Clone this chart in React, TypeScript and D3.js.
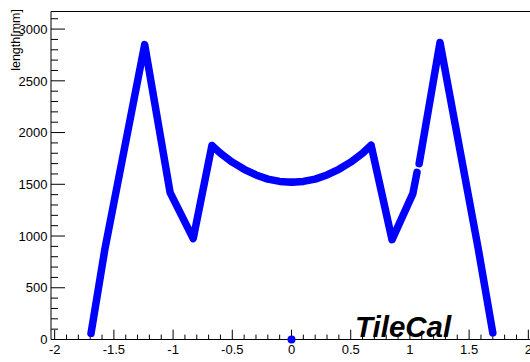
import React from "react";
import * as d3 from "d3";

// Data (eta vs cell length in mm)
const leftEta = [-1.693, -1.575, -1.24, -1.025, -0.83, -0.672, -0.6, -0.5, -0.4, -0.3, -0.2, -0.1, 0];
const leftLen = [60, 880, 2850, 1420, 975, 1875, 1800, 1714, 1645, 1590, 1550, 1528, 1520];
const rightEta = [0, 0.1, 0.2, 0.3, 0.4, 0.5, 0.6, 0.672, 0.849, 1.025, 1.06];
const rightLen = [1520, 1528, 1550, 1590, 1645, 1714, 1800, 1878, 965, 1410, 1615];
const outerEta = [1.078, 1.254, 1.575, 1.7];
const outerLen = [1700, 2870, 890, 65];
const zeroEta = [0];
const zeroLen = [0];

const xMajorTicks = [-2, -1.5, -1, -0.5, 0, 0.5, 1, 1.5, 2];
const yMajorTicks = [0, 500, 1000, 1500, 2000, 2500, 3000];
const yTitle = "length[mm]";
const watermark = "TileCal";

const W = 530;
const H = 362;
const FL = 51, FR = 532, FT = 11.5, FB = 339.5;

export default function App() {
  const x = d3.scaleLinear().domain([-2.031, 2.031]).range([FL, FR]);
  const y = d3.scaleLinear().domain([0, 3170]).range([FB, FT]);

  const line = d3
    .line<[number, number]>()
    .x((d) => x(d[0]))
    .y((d) => y(d[1]));

  const seg = (e: number[], l: number[]) => e.map((v, i) => [v, l[i]] as [number, number]);
  const segments = [seg(leftEta, leftLen), seg(rightEta, rightLen), seg(outerEta, outerLen)];

  const xMinor = d3.range(-20, 21).map((i) => i / 10).filter((v) => v >= -2.031 && v <= 2.031);
  const yMinor = d3.range(0, 3200, 100).filter((v) => v <= 3170);

  const font = "'Liberation Sans', Arial, Helvetica, sans-serif";

  return (
    <svg
      width={W}
      height={H}
      style={{ position: "absolute", left: 0, top: 0, background: "#fff" }}
      fontFamily={font}
    >
      <rect x={0} y={0} width={W} height={H} fill="#fff" />
      {/* frame */}
      <line x1={FL} x2={FR} y1={FT} y2={FT} stroke="#000" strokeWidth={1} />
      <line x1={FR} x2={FR} y1={FT} y2={FB} stroke="#000" strokeWidth={1} />
      <line x1={FL} x2={FR} y1={FB} y2={FB} stroke="#000" strokeWidth={1} />
      <line x1={FL} x2={FL} y1={FT} y2={FB} stroke="#000" strokeWidth={1} />

      {/* x ticks */}
      {xMinor.map((v, i) => {
        const major = xMajorTicks.some((m) => Math.abs(m - v) < 1e-6);
        return (
          <line key={"xm" + i} x1={x(v)} x2={x(v)} y1={FB} y2={FB - (major ? 9.8 : 4.9)} stroke="#000" strokeWidth={1} />
        );
      })}
      {xMajorTicks.map((v) => (
        <text key={"xl" + v} x={x(v)} y={353.5} fontSize={13} textAnchor="middle" fill="#000">
          {String(v)}
        </text>
      ))}

      {/* y ticks */}
      {yMinor.map((v, i) => {
        const major = yMajorTicks.includes(v);
        return (
          <line key={"ym" + i} x1={FL} x2={FL + (major ? 14 : 7)} y1={y(v)} y2={y(v)} stroke="#000" strokeWidth={1} />
        );
      })}
      {yMajorTicks.map((v) => (
        <text key={"yl" + v} x={47.5} y={y(v)} dy="0.36em" fontSize={13} textAnchor="end" fill="#000">
          {String(v)}
        </text>
      ))}

      {/* y title */}
      <text
        transform={`translate(19.5, 9) rotate(-90)`}
        fontSize={12.5}
        textAnchor="end"
        fill="#000"
      >
        {yTitle}
      </text>

      {/* data */}
      {segments.map((s, i) => (
        <path
          key={"s" + i}
          d={line(s) || ""}
          fill="none"
          stroke="#0000ff"
          strokeWidth={7.5}
          strokeLinejoin="round"
          strokeLinecap="round"
        />
      ))}
      {zeroEta.map((e, i) => (
        <circle key={"z" + i} cx={x(e)} cy={y(zeroLen[i])} r={4} fill="#0000ff" />
      ))}

      {/* watermark */}
      <text x={355} y={337} fontSize={29.5} fontWeight="bold" fontStyle="italic" fill="#000">
        {watermark}
      </text>
    </svg>
  );
}
